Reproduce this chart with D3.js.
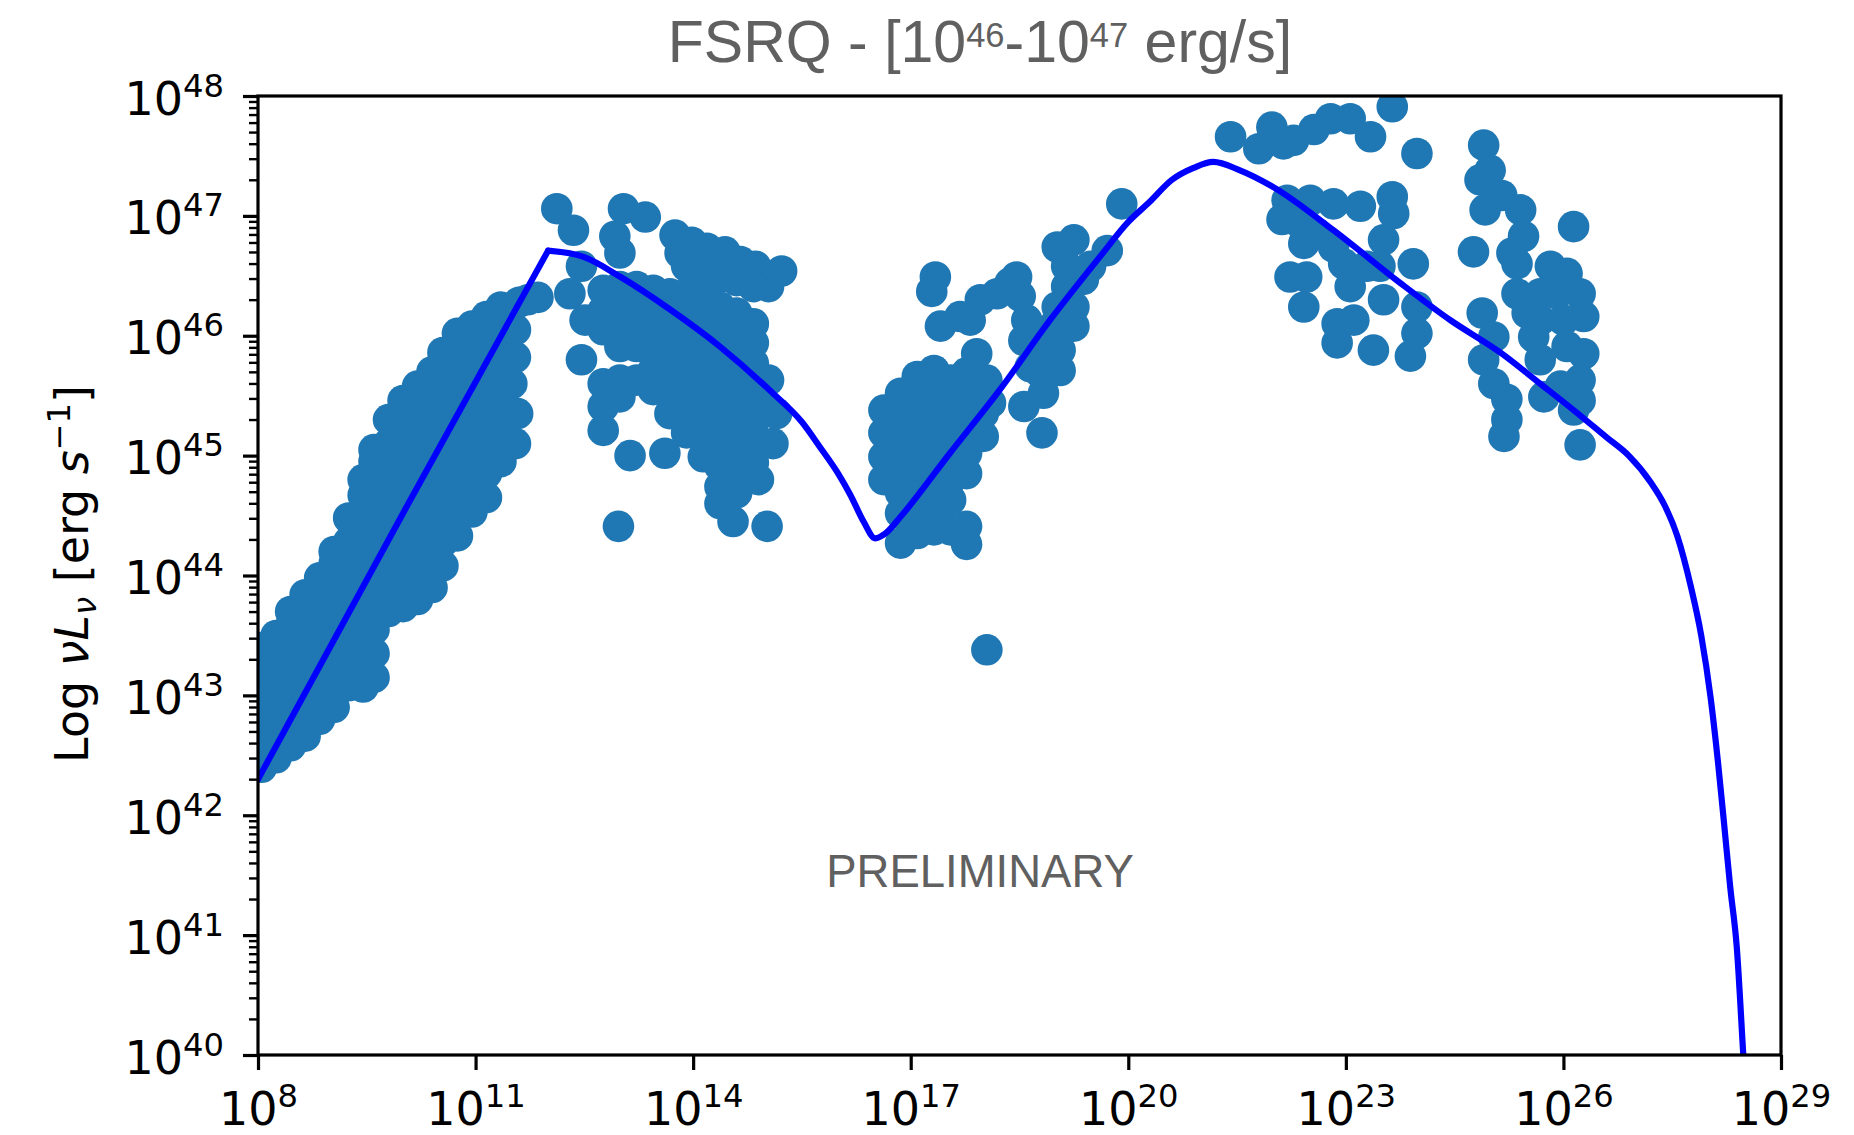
<!DOCTYPE html>
<html><head><meta charset="utf-8">
<script src="https://cdn.jsdelivr.net/npm/d3@7"></script>
<style>html,body{margin:0;padding:0;background:#fff;} svg{display:block;}</style>
</head><body>
<svg id="chart" width="1854" height="1135"></svg>
<script>
// ---- tick labels (exponents of ten) ----
const xTickExponents = [8, 11, 14, 17, 20, 23, 26, 29];
const yTickExponents = [40, 41, 42, 43, 44, 45, 46, 47, 48];

// ---- data: [log10 nu (Hz), log10 nuL_nu (erg/s)] ----
const radioBand = [
[8.05,42.4],[8.05,42.6],[8.05,42.8],[8.05,43.0],[8.05,43.2],[8.05,43.4],
[8.25,42.48],[8.25,42.68],[8.25,42.88],[8.25,43.08],[8.25,43.28],[8.25,43.5],
[8.45,42.58],[8.45,42.78],[8.45,42.98],[8.45,43.18],[8.45,43.38],[8.45,43.58],[8.45,43.7],
[8.65,42.66],[8.65,42.86],[8.65,43.06],[8.65,43.26],[8.65,43.46],[8.65,43.66],[8.65,43.84],
[8.85,42.8],[8.85,43.0],[8.85,43.2],[8.85,43.4],[8.85,43.6],[8.85,43.8],[8.85,43.98],
[9.05,42.9],[9.05,43.1],[9.05,43.3],[9.05,43.5],[9.05,43.7],[9.05,43.9],[9.05,44.1],[9.05,44.2],
[9.25,43.08],[9.25,43.28],[9.25,43.48],[9.25,43.68],[9.25,43.88],[9.25,44.08],[9.25,44.28],[9.25,44.48],
[9.45,43.07],[9.45,43.27],[9.45,43.47],[9.45,43.67],[9.45,43.87],[9.45,44.07],[9.45,44.27],[9.45,44.47],[9.45,44.67],[9.45,44.8],
[9.6,43.15],[9.6,43.35],[9.6,43.55],[9.6,43.75],[9.6,43.95],[9.6,44.15],[9.6,44.35],[9.6,44.55],[9.6,44.75],[9.6,44.95],[9.6,45.05],
[9.8,43.7],[9.8,43.9],[9.8,44.1],[9.8,44.3],[9.8,44.5],[9.8,44.7],[9.8,44.9],[9.8,45.1],[9.8,45.3],
[10.0,43.74],[10.0,43.94],[10.0,44.14],[10.0,44.34],[10.0,44.54],[10.0,44.74],[10.0,44.94],[10.0,45.14],[10.0,45.34],[10.0,45.46],
[10.2,43.8],[10.2,44.0],[10.2,44.2],[10.2,44.4],[10.2,44.6],[10.2,44.8],[10.2,45.0],[10.2,45.2],[10.2,45.4],[10.2,45.58],
[10.4,43.9],[10.4,44.1],[10.4,44.3],[10.4,44.5],[10.4,44.7],[10.4,44.9],[10.4,45.1],[10.4,45.3],[10.4,45.5],[10.4,45.7],
[10.55,44.08],[10.55,44.28],[10.55,44.48],[10.55,44.68],[10.55,44.88],[10.55,45.08],[10.55,45.28],[10.55,45.48],[10.55,45.68],[10.55,45.86],
[10.75,44.33],[10.75,44.53],[10.75,44.73],[10.75,44.93],[10.75,45.13],[10.75,45.33],[10.75,45.53],[10.75,45.73],[10.75,45.93],[10.75,46.02],
[10.95,44.53],[10.95,44.73],[10.95,44.93],[10.95,45.13],[10.95,45.33],[10.95,45.53],[10.95,45.73],[10.95,45.93],[10.95,46.08],
[11.15,44.65],[11.15,44.85],[11.15,45.05],[11.15,45.25],[11.15,45.45],[11.15,45.65],[11.15,45.85],[11.15,46.05],[11.15,46.16],
[11.35,44.95],[11.35,45.15],[11.35,45.35],[11.35,45.55],[11.35,45.75],[11.35,45.95],[11.35,46.15],[11.35,46.24],
[11.55,45.1],[11.58,45.35],[11.5,45.6],[11.55,45.82],[11.55,46.05],[11.6,46.28],[11.72,46.3],[11.86,46.32]
];
const opticalBand = [
[12.12,47.06],[12.35,46.88],[13.04,47.06],[13.34,46.99],[12.92,46.83],[12.99,46.69],[12.46,46.58],[12.3,46.35],[12.51,46.13],[12.46,45.8],[12.97,44.41],
[13.75,46.84],[13.98,46.78],[14.19,46.73],[14.44,46.7],[14.65,46.62],[14.86,46.58],[15.22,46.54],[15.04,46.41],[14.83,46.41],[14.6,46.46],[14.37,46.49],[14.14,46.52],[13.91,46.58],[13.82,46.69],
[12.76,46.38],[12.76,46.21],[12.76,46.05],[12.76,45.6],[12.76,45.41],[12.76,45.21],
[12.99,46.41],[12.99,46.24],[12.99,46.08],[12.99,45.91],[12.99,45.63],[12.99,45.49],
[13.13,45.0],
[13.22,46.41],[13.22,46.24],[13.22,46.08],[13.22,45.91],[13.22,45.63],
[13.45,46.38],[13.45,46.22],[13.45,46.05],[13.45,45.88],[13.45,45.71],[13.45,45.55],
[13.61,45.02],
[13.68,46.35],[13.68,46.19],[13.68,46.02],[13.68,45.85],[13.68,45.69],[13.68,45.52],[13.68,45.35],
[13.91,46.35],[13.91,46.19],[13.91,46.02],[13.91,45.85],[13.91,45.69],[13.91,45.52],[13.91,45.35],[13.91,45.19],
[14.14,46.33],[14.14,46.16],[14.14,45.99],[14.14,45.83],[14.14,45.66],[14.14,45.49],[14.14,45.33],[14.14,45.16],[14.14,44.99],
[14.37,46.24],[14.37,46.08],[14.37,45.91],[14.37,45.74],[14.37,45.58],[14.37,45.41],[14.37,45.24],[14.37,45.08],[14.37,44.91],[14.37,44.74],[14.37,44.6],
[14.6,46.19],[14.6,46.02],[14.6,45.85],[14.6,45.69],[14.6,45.52],[14.6,45.35],[14.6,45.19],[14.6,45.02],[14.6,44.85],[14.6,44.69],[14.55,44.45],
[14.83,46.1],[14.83,45.94],[14.83,45.77],[14.83,45.6],[14.83,45.44],[14.83,45.27],[14.83,45.1],[14.83,44.94],[14.9,44.8],
[15.04,45.63],[15.04,45.38],[15.1,45.1],[15.02,44.41],[15.15,45.35]
];
const xrayBand = [
[19.91,47.1],
[19.02,46.74],[19.25,46.8],[19.71,46.71],[19.48,46.58],[19.15,46.58],[19.38,46.47],
[19.15,46.41],[19.02,46.24],[19.25,46.24],[19.25,46.08],[18.97,46.08],[18.79,45.91],[19.06,45.88],[19.06,45.71],[18.79,45.69],[18.56,45.41],[18.81,45.19],[18.6,46.13],[18.56,45.96],[18.65,45.74],[18.83,45.52],
[18.37,46.44],[18.19,46.35],[18.51,46.33],[18.46,46.49],
[17.34,46.49],[17.29,46.37],
[17.41,46.08],[17.68,46.16],[17.96,46.3],[17.82,46.13],
[17.91,45.85],[18.05,45.63],[18.1,45.44],
[16.63,45.38],[16.63,45.19],[16.63,44.99],[16.63,44.8],
[16.86,45.52],[16.86,45.35],[16.86,45.19],[16.86,45.02],[16.86,44.85],[16.86,44.69],[16.86,44.52],[16.86,44.27],
[17.09,45.66],[17.09,45.49],[17.09,45.33],[17.09,45.16],[17.09,44.99],[17.09,44.83],[17.09,44.66],[17.09,44.49],[17.09,44.35],
[17.32,45.71],[17.32,45.55],[17.32,45.38],[17.32,45.21],[17.32,45.05],[17.32,44.88],[17.32,44.71],[17.32,44.55],[17.32,44.38],
[17.55,45.63],[17.55,45.46],[17.55,45.3],[17.55,45.13],[17.55,44.96],[17.55,44.8],[17.55,44.63],[17.55,44.38],
[17.77,45.69],[17.77,45.52],[17.77,45.35],[17.77,45.19],[17.77,45.02],[17.77,44.85],[17.77,44.41],[17.77,44.26],
[18.0,45.35],[18.0,45.16],
[18.05,43.38]
];
const gevBand = [
[21.41,47.66],[21.8,47.56],[21.98,47.74],[22.14,47.6],[22.28,47.63],[22.56,47.72],[22.79,47.81],[23.06,47.81],[23.34,47.66],[23.64,47.91],[23.98,47.52],
[22.19,47.13],[22.12,46.97],[22.51,47.13],[22.83,47.1],[23.2,47.08],[23.64,47.16],[23.66,47.02],
[22.42,46.77],[22.46,46.49],[22.23,46.49],[22.42,46.24],[22.37,46.94],[22.6,46.85],
[22.83,46.74],[22.97,46.6],[23.06,46.41],[23.29,46.58],[23.52,46.8],[23.47,46.58],[23.52,46.3],
[23.93,46.6],[23.98,46.24],[23.98,46.02],[23.89,45.83],[23.38,45.88],[22.88,45.94],[22.88,46.1],[23.11,46.13]
];
const tevBand = [
[24.9,47.59],[24.99,47.38],[24.85,47.3],[25.15,47.17],[25.41,47.05],[24.92,47.05],[24.76,46.7],[25.29,46.69],[25.45,46.83],[25.36,46.6],
[26.14,46.91],
[25.82,46.58],[25.36,46.35],[25.68,46.35],[25.91,46.35],[26.23,46.35],[26.05,46.52],[26.28,46.16],[25.68,46.13],[26.0,46.13],[25.5,46.19],[25.59,45.99],[26.05,45.91],[26.28,45.85],[25.68,45.8],[26.23,45.63],[25.96,45.58],[26.23,45.46],[25.73,45.49],[26.14,45.38],[26.23,45.09],
[24.88,46.19],[25.04,45.99],[24.9,45.8],[25.04,45.6],[25.22,45.47],[25.22,45.3],[25.18,45.16]
];
// model SED curve: a straight synchrotron rise, then the curved part
const sedRise = [[8.0,42.3],[10.0,44.52],[12.0,46.71]];
const sedModel = [
[12.0,46.71],[12.48,46.66],[13.0,46.49],[13.68,46.22],[14.37,45.91],[15.1,45.52],[15.5,45.28],[15.75,45.07],[16.0,44.85],[16.17,44.67],
[16.35,44.45],[16.51,44.31],[16.65,44.35],[16.86,44.49],[17.54,45.02],[18.23,45.55],[18.92,46.13],[19.61,46.66],[20.0,46.95],[20.3,47.12],
[20.6,47.3],[20.9,47.4],[21.17,47.45],[21.54,47.38],[22.0,47.24],[22.83,46.88],[23.75,46.44],[24.44,46.13],[25.13,45.86],[25.68,45.6],
[26.14,45.38],[26.6,45.15],[26.9,45.0],[27.2,44.78],[27.4,44.58],[27.57,44.33],[27.76,43.9],[27.9,43.5],[28.03,42.98],[28.13,42.45],
[28.22,41.9],[28.3,41.4],[28.39,40.9],[28.48,40.0],[28.52,39.6]
];

// ---- layout ----
const W = 1854, H = 1135;
const M = {left: 258, right: 1781, top: 96, bottom: 1055};
const x = d3.scaleLog().domain([1e8, 1e29]).range([M.left, M.right]);
const y = d3.scaleLog().domain([1e40, 1e48]).range([M.bottom, M.top]);
const P = v => Math.pow(10, v);

const svg = d3.select('#chart');
svg.append('rect').attr('width', W).attr('height', H).attr('fill', '#fff');
svg.append('defs').append('clipPath').attr('id', 'plotclip').append('rect')
  .attr('x', M.left).attr('y', M.top).attr('width', M.right - M.left).attr('height', M.bottom - M.top);

// scatter
const allPts = [].concat(radioBand, opticalBand, xrayBand, gevBand, tevBand);
svg.append('g').attr('clip-path', 'url(#plotclip)')
  .selectAll('circle').data(allPts).join('circle')
  .attr('cx', d => x(P(d[0]))).attr('cy', d => y(P(d[1])))
  .attr('r', 15.8).attr('fill', '#1f77b4');

// model line
const gLine = svg.append('g').attr('clip-path', 'url(#plotclip)');
const lin = d3.line().x(d => x(P(d[0]))).y(d => y(P(d[1]))).curve(d3.curveLinear);
const mono = d3.line().x(d => x(P(d[0]))).y(d => y(P(d[1]))).curve(d3.curveMonotoneX);
[lin(sedRise), mono(sedModel)].forEach(dd => {
  gLine.append('path').attr('d', dd).attr('fill', 'none').attr('stroke', '#0000ff')
    .attr('stroke-width', 6.2).attr('stroke-linejoin', 'round').attr('stroke-linecap', 'round');
});

// spines
svg.append('rect').attr('x', M.left).attr('y', M.top).attr('width', M.right - M.left).attr('height', M.bottom - M.top)
  .attr('fill', 'none').attr('stroke', '#000').attr('stroke-width', 3.2);

// x axis
const gx = svg.append('g').attr('transform', `translate(0,${M.bottom})`)
  .call(d3.axisBottom(x).tickValues(xTickExponents.map(P)).tickSize(15).tickFormat(() => ''));
gx.select('.domain').remove();
gx.selectAll('.tick line').attr('stroke', '#000').attr('stroke-width', 3.2);
gx.selectAll('.tick text').remove();
gx.selectAll('.tick').each(function(d, i) {
  const t = d3.select(this).append('text').attr('x', 0).attr('y', 70)
    .attr('text-anchor', 'middle').attr('font-family', 'DejaVu Sans').attr('font-size', 46).attr('fill', '#000');
  t.append('tspan').text('10');
  t.append('tspan').attr('font-size', 32.2).attr('dy', -18).text(String(xTickExponents[i]));
});

// y axis major
const gy = svg.append('g').attr('transform', `translate(${M.left},0)`)
  .call(d3.axisLeft(y).tickValues(yTickExponents.map(P)).tickSize(15).tickFormat(() => ''));
gy.select('.domain').remove();
gy.selectAll('.tick line').attr('stroke', '#000').attr('stroke-width', 3.2);
gy.selectAll('.tick text').remove();
gy.selectAll('.tick').each(function(d, i) {
  const t = d3.select(this).append('text').attr('x', -34).attr('y', 18)
    .attr('text-anchor', 'end').attr('font-family', 'DejaVu Sans').attr('font-size', 46).attr('fill', '#000');
  t.append('tspan').text('10');
  t.append('tspan').attr('font-size', 32.2).attr('dy', -18).text(String(yTickExponents[i]));
});
// y axis minor
const minor = [];
yTickExponents.slice(0, -1).forEach(e => { for (let m = 2; m <= 9; m++) minor.push(m * P(e)); });
const gym = svg.append('g').attr('transform', `translate(${M.left},0)`)
  .call(d3.axisLeft(y).tickValues(minor).tickSize(9).tickFormat(() => ''));
gym.select('.domain').remove();
gym.selectAll('.tick line').attr('stroke', '#000').attr('stroke-width', 2.4);

// y label
const yl = svg.append('text').attr('transform', 'translate(88,574) rotate(-90)')
  .attr('text-anchor', 'middle').attr('font-family', 'DejaVu Sans').attr('font-size', 46).attr('fill', '#000');
yl.append('tspan').text('Log ');
yl.append('tspan').attr('font-style', 'italic').text('\u03bdL');
yl.append('tspan').attr('font-style', 'italic').attr('font-size', 32).attr('dy', 8).text('\u03bd');
yl.append('tspan').attr('dy', -8).text(' [erg ');
yl.append('tspan').attr('font-style', 'italic').text('s');
yl.append('tspan').attr('font-size', 32).attr('dy', -18).text('\u22121');
yl.append('tspan').attr('dy', 18).text(']');

// title
const tt = svg.append('text').attr('x', 980).attr('y', 62).attr('text-anchor', 'middle')
  .attr('font-family', 'Liberation Sans, Arial, sans-serif').attr('font-size', 59).attr('fill', '#606060');
tt.append('tspan').text('FSRQ - [10');
tt.append('tspan').attr('font-size', 34.5).attr('dy', -15).text('46');
tt.append('tspan').attr('dy', 15).text('-10');
tt.append('tspan').attr('font-size', 34.5).attr('dy', -15).text('47');
tt.append('tspan').attr('dy', 15).text(' erg/s]');

// watermark
svg.append('text').attr('x', 980).attr('y', 887).attr('text-anchor', 'middle')
  .attr('font-family', 'Liberation Sans, Arial, sans-serif').attr('font-size', 45.5).attr('fill', '#606060')
  .text('PRELIMINARY');
</script>
</body></html>
